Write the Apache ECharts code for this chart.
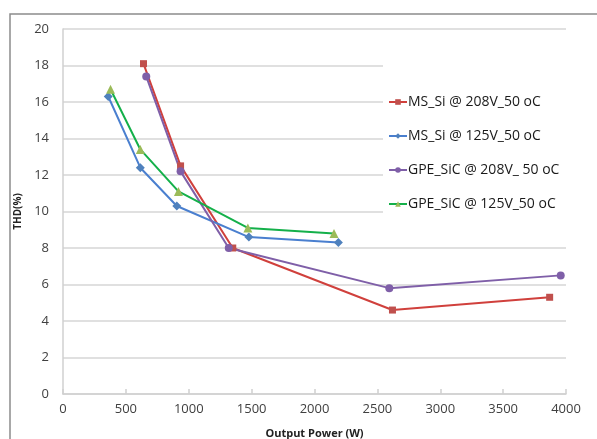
<!DOCTYPE html>
<html>
<head>
<meta charset="utf-8">
<script src="https://cdn.jsdelivr.net/npm/echarts@6/dist/echarts.min.js"></script>
<style>
  html, body { margin: 0; padding: 0; background: #fff; }
  #chart { width: 597px; height: 439px; }
</style>
</head>
<body>
<div id="chart"></div>
<script>
// values (Output Power W, THD %)
const msSi208X = [640, 935, 1350, 2620, 3870];
const msSi208Y = [18.1, 12.5, 8.0, 4.6, 5.3];
const msSi125X = [360, 615, 905, 1478, 2190];
const msSi125Y = [16.3, 12.4, 10.3, 8.6, 8.3];
const gpe208X = [662, 935, 1318, 2595, 3958];
const gpe208Y = [17.4, 12.2, 8.0, 5.8, 6.5];
const gpe125X = [378, 615, 918, 1470, 2155];
const gpe125Y = [16.7, 13.4, 11.1, 9.1, 8.8];

const seriesNames = ['MS_Si @ 208V_50 oC', 'MS_Si @ 125V_50 oC', 'GPE_SiC @ 208V_ 50 oC', 'GPE_SiC @ 125V_50 oC'];
const xTicks = [0, 500, 1000, 1500, 2000, 2500, 3000, 3500, 4000];
const yTicks = [0, 2, 4, 6, 8, 10, 12, 14, 16, 18, 20];

const zip = (xs, ys) => xs.map((x, i) => [x, ys[i]]);

const chart = echarts.init(document.getElementById('chart'));

const mkSeries = (name, data, lineColor, markColor, symbol, size) => ({
    name,
    type: 'line',
    data,
    symbol,
    symbolSize: size,
    lineStyle: { color: lineColor, width: 2 },
    itemStyle: { color: markColor },
    emphasis: { disabled: true },
    z: 3
});

const option = {
    animation: false,
    backgroundColor: '#fff',
    textStyle: { fontFamily: 'Open Sans, Liberation Sans, sans-serif' },
    graphic: [
        {
            type: 'polyline',
            shape: { points: [[10, 439], [10, 14], [597, 14]] },
            style: { stroke: '#8c8c8c', lineWidth: 1.5, fill: null },
            z: 0
        }
    ],
    grid: { left: 63, right: 31, top: 29, bottom: 45, outerBoundsMode: 'none', containLabel: false },
    xAxis: {
        type: 'value',
        min: xTicks[0],
        max: xTicks[xTicks.length - 1],
        interval: 500,
        name: 'Output Power (W)',
        nameLocation: 'middle',
        nameGap: 34,
        nameTextStyle: { fontSize: 11, fontWeight: 'bold', color: '#222' },
        axisLine: { show: true, lineStyle: { color: '#d0d0d0', width: 1.5 } },
        axisTick: { show: true, inside: true, length: 5, lineStyle: { color: '#d0d0d0', width: 1.5 } },
        axisLabel: { fontSize: 13, color: '#404040', margin: 9, formatter: v => String(v) },
        splitLine: { show: false }
    },
    yAxis: {
        type: 'value',
        min: yTicks[0],
        max: yTicks[yTicks.length - 1],
        interval: 2,
        name: 'THD(%)',
        nameLocation: 'middle',
        nameGap: 36,
        nameTextStyle: { fontSize: 10, fontWeight: 'bold', color: '#222' },
        axisLine: { show: true, lineStyle: { color: '#d0d0d0', width: 1.5 } },
        axisTick: { show: false },
        axisLabel: { fontSize: 13, color: '#404040', margin: 14 },
        splitLine: { lineStyle: { color: '#d6d6d6', width: 1.5 } }
    },
    legend: {
        orient: 'vertical',
        left: 383,
        top: 55,
        padding: [40, 60, 17, 5],
        backgroundColor: '#fff',
        itemGap: 20,
        itemWidth: 18,
        itemHeight: 7,
        textStyle: { fontSize: 14, color: '#1a1a1a', padding: [0, 0, 0, -4] },
        data: seriesNames,
        z: 4
    },
    series: [
        mkSeries(seriesNames[0], zip(msSi208X, msSi208Y), '#d0403c', '#c0504d', 'rect', 7),
        mkSeries(seriesNames[1], zip(msSi125X, msSi125Y), '#4a7fcf', '#4f81bd', 'diamond', 9),
        mkSeries(seriesNames[2], zip(gpe208X, gpe208Y), '#7f5fa8', '#7f5fa8', 'circle', 8),
        mkSeries(seriesNames[3], zip(gpe125X, gpe125Y), '#14b04a', '#9bbb59', 'triangle', 9)
    ]
};

chart.setOption(option);
</script>
</body>
</html>
